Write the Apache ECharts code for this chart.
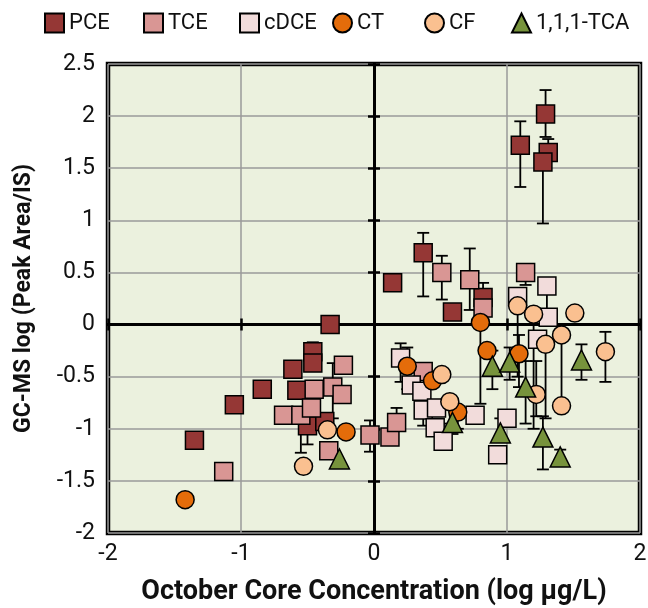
<!DOCTYPE html>
<html><head><meta charset="utf-8">
<script src="https://cdn.jsdelivr.net/npm/echarts@6/dist/echarts.min.js"></script>
<style>html,body{margin:0;padding:0;background:#fff}#c{width:648px;height:608px}</style>
</head><body><div id="c"></div>
<script>
// ---- data ----
const seriesNames = ['PCE', 'TCE', 'cDCE', 'CT', 'CF', '1,1,1-TCA'];
const xTicks = [-2, -1, 0, 1, 2];
const yTicks = [-2, -1.5, -1, -0.5, 0, 0.5, 1, 1.5, 2, 2.5];

const pceX  = [-1.35,-1.05,-0.84,-0.61,-0.58,-0.46,-0.46,-0.33,-0.50,-0.37,0.14,0.37,0.59,0.82,1.10,1.29,1.31,1.27];
const pceY  = [-1.11,-0.77,-0.62,-0.43,-0.63,-0.26,-0.37,0.00,-0.97,-0.93,0.40,0.69,0.12,0.26,1.72,2.02,1.65,1.56];
const pceLo = [null,null,null,null,null,-0.33,null,null,-1.15,null,null,0.27,null,0.00,1.32,1.80,null,0.97];
const pceHi = [null,null,null,null,null,-0.17,null,null,null,null,null,0.88,null,0.40,1.95,2.25,1.78,null];

const tceX  = [-1.13,-0.68,-0.55,-0.47,-0.45,-0.34,-0.31,-0.24,-0.23,-0.03,0.12,0.17,0.37,0.51,0.72,0.82,1.14];
const tceY  = [-1.41,-0.87,-0.87,-0.80,-0.62,-1.21,-0.60,-0.67,-0.39,-1.06,-1.08,-0.94,-0.45,0.50,0.43,0.16,0.50];
const tceLo = [null,null,-1.23,null,null,null,-0.90,null,null,-1.22,null,null,null,0.24,0.14,null,0.38];
const tceHi = [null,null,null,null,null,null,-0.37,null,null,-0.92,null,-0.80,null,0.66,0.73,null,null];

const cdceX  = [0.20,0.28,0.36,0.37,0.47,0.46,0.52,0.76,1.00,0.93,1.08,1.30,1.31,1.23];
const cdceY  = [-0.32,-0.58,-0.64,-0.82,-0.80,-0.99,-1.12,-0.87,-0.90,-1.25,0.27,0.37,0.07,-0.14];
const cdceLo = [-0.55,null,null,-0.97,null,null,null,null,null,null,null,0.10,null,null];
const cdceHi = [-0.18,null,null,null,null,null,null,null,null,null,null,null,null,null];

const ctX  = [-1.42,-0.21,0.25,0.44,0.63,0.80,0.85,1.09];
const ctY  = [-1.68,-1.03,-0.40,-0.54,-0.84,0.02,-0.25,-0.28];
const ctLo = [null,null,-0.62,null,-1.00,-0.76,null,-0.60];
const ctHi = [null,null,-0.22,null,null,null,null,-0.10];

const cfX  = [-0.53,-0.35,0.51,0.57,1.08,1.20,1.51,1.41,1.29,1.74,1.22,1.41];
const cfY  = [-1.36,-1.01,-0.48,-0.74,0.18,0.10,0.11,-0.10,-0.19,-0.26,-0.67,-0.78];
const cfLo = [null,null,null,-0.95,-0.50,-1.00,null,-0.78,-0.90,-0.55,-0.88,null];
const cfHi = [null,null,null,null,null,null,null,null,null,-0.07,-0.35,null];

const tcaX  = [-0.26,0.59,0.89,1.02,1.14,0.95,1.27,1.40,1.56];
const tcaY  = [-1.29,-0.94,-0.40,-0.36,-0.60,-1.04,-1.08,-1.27,-0.34];
const tcaLo = [null,-1.05,-0.62,-0.53,-0.95,null,-1.39,null,-0.53];
const tcaHi = [null,null,-0.25,-0.22,-0.35,-0.90,-0.88,-1.20,-0.19];

// ---- styles ----
const colors  = ['#953735', '#d99694', '#f2dcdb', '#e46c0a', '#fac090', '#77933c'];
const symbols = ['rect', 'rect', 'rect', 'circle', 'circle', 'triangle'];
const symSize = [18, 18, 18, 18, 18, 20];
const legendLeft = [44, 143, 239, 332, 424, 511];
const FONT = 'Roboto, "Liberation Sans", sans-serif';

const groups = [
  [pceX, pceY, pceLo, pceHi],
  [tceX, tceY, tceLo, tceHi],
  [cdceX, cdceY, cdceLo, cdceHi],
  [ctX, ctY, ctLo, ctHi],
  [cfX, cfY, cfLo, cfHi],
  [tcaX, tcaY, tcaLo, tcaHi]
];

function errSeries(xs, ys, lo, hi) {
  return {
    type: 'custom', xAxisIndex: 0, yAxisIndex: 0, silent: true,
    data: xs.map((x, i) => [x, lo[i] == null ? ys[i] : lo[i], hi[i] == null ? ys[i] : hi[i], ys[i]]),
    encode: { x: 0, y: [1, 2] },
    renderItem: function (params, api) {
      const x = api.value(0), l = api.value(1), h = api.value(2), y = api.value(3);
      const ch = [];
      if (l !== h) {
        const pl = api.coord([x, l]), ph = api.coord([x, h]);
        const st = { stroke: '#000', lineWidth: 1.8 };
        ch.push({ type: 'line', shape: { x1: pl[0], y1: pl[1], x2: ph[0], y2: ph[1] }, style: st });
        if (l !== y) ch.push({ type: 'line', shape: { x1: pl[0] - 6, y1: pl[1], x2: pl[0] + 6, y2: pl[1] }, style: st });
        if (h !== y) ch.push({ type: 'line', shape: { x1: ph[0] - 6, y1: ph[1], x2: ph[0] + 6, y2: ph[1] }, style: st });
      }
      return { type: 'group', children: ch };
    }
  };
}

const series = [];
groups.forEach((g, i) => {
  series.push(errSeries(g[0], g[1], g[2], g[3]));
  series.push({
    type: 'scatter', name: seriesNames[i], xAxisIndex: 0, yAxisIndex: 0,
    symbol: symbols[i], symbolSize: symSize[i],
    itemStyle: { color: colors[i], borderColor: '#000', borderWidth: 1.5, opacity: 1 },
    data: g[0].map((x, k) => [x, g[1][k]])
  });
});

const zeroX = (pos) => ({
  type: 'value', min: xTicks[0], max: xTicks[xTicks.length - 1], interval: 1, position: pos,
  axisLine: { show: true, onZero: true, onZeroAxisIndex: 0, lineStyle: { color: '#000', width: 3 } },
  axisTick: { show: true, length: 6, lineStyle: { color: '#000', width: 2.5 } },
  axisLabel: { show: false }, splitLine: { show: false }
});
const zeroY = (pos) => ({
  type: 'value', min: yTicks[0], max: yTicks[yTicks.length - 1], interval: 0.5, position: pos,
  axisLine: { show: true, onZero: true, onZeroAxisIndex: 0, lineStyle: { color: '#000', width: 3 } },
  axisTick: { show: true, length: 6, lineStyle: { color: '#000', width: 2.5 } },
  axisLabel: { show: false }, splitLine: { show: false }
});

const option = {
  animation: false,
  backgroundColor: '#ffffff',
  legend: seriesNames.map((n, i) => ({
    data: [n], left: legendLeft[i], top: 12, itemWidth: 19, itemHeight: 19, itemGap: 0,
    selectedMode: false, padding: 0,
    textStyle: { fontFamily: FONT, fontSize: 22, color: '#111' }
  })),
  grid: {
    left: 108, right: 8, top: 64, bottom: 75, outerBoundsMode: 'none', containLabel: false,
    show: true, backgroundColor: '#ebf1de', borderColor: '#000', borderWidth: 4.5
  },
  xAxis: [
    {
      type: 'value', min: xTicks[0], max: xTicks[xTicks.length - 1], interval: 1, position: 'bottom',
      axisLine: { show: false, onZero: false }, axisTick: { show: false },
      axisLabel: { fontFamily: FONT, fontSize: 23, color: '#111', margin: 10 },
      splitLine: { show: true, lineStyle: { color: '#9a9a9a', width: 1.5 } },
      name: 'October Core Concentration (log µg/L)', nameLocation: 'middle', nameGap: 46,
      nameTextStyle: { fontFamily: FONT, fontWeight: 'bold', fontSize: 27, color: '#111' }
    },
    zeroX('bottom'), zeroX('top')
  ],
  yAxis: [
    {
      type: 'value', min: yTicks[0], max: yTicks[yTicks.length - 1], interval: 0.5, position: 'left',
      axisLine: { show: false, onZero: false }, axisTick: { show: false },
      axisLabel: { fontFamily: FONT, fontSize: 23, color: '#111', margin: 13 },
      splitLine: { show: true, lineStyle: { color: '#9a9a9a', width: 1.5 } },
      name: 'GC-MS log (Peak Area/IS)', nameLocation: 'middle', nameGap: 72,
      nameTextStyle: { fontFamily: FONT, fontWeight: 'bold', fontSize: 23, color: '#111' }
    },
    zeroY('left'), zeroY('right')
  ],
  series: series
};

const chart = echarts.init(document.getElementById('c'), null, { renderer: 'canvas' });
chart.setOption(option);
</script>
</body></html>
